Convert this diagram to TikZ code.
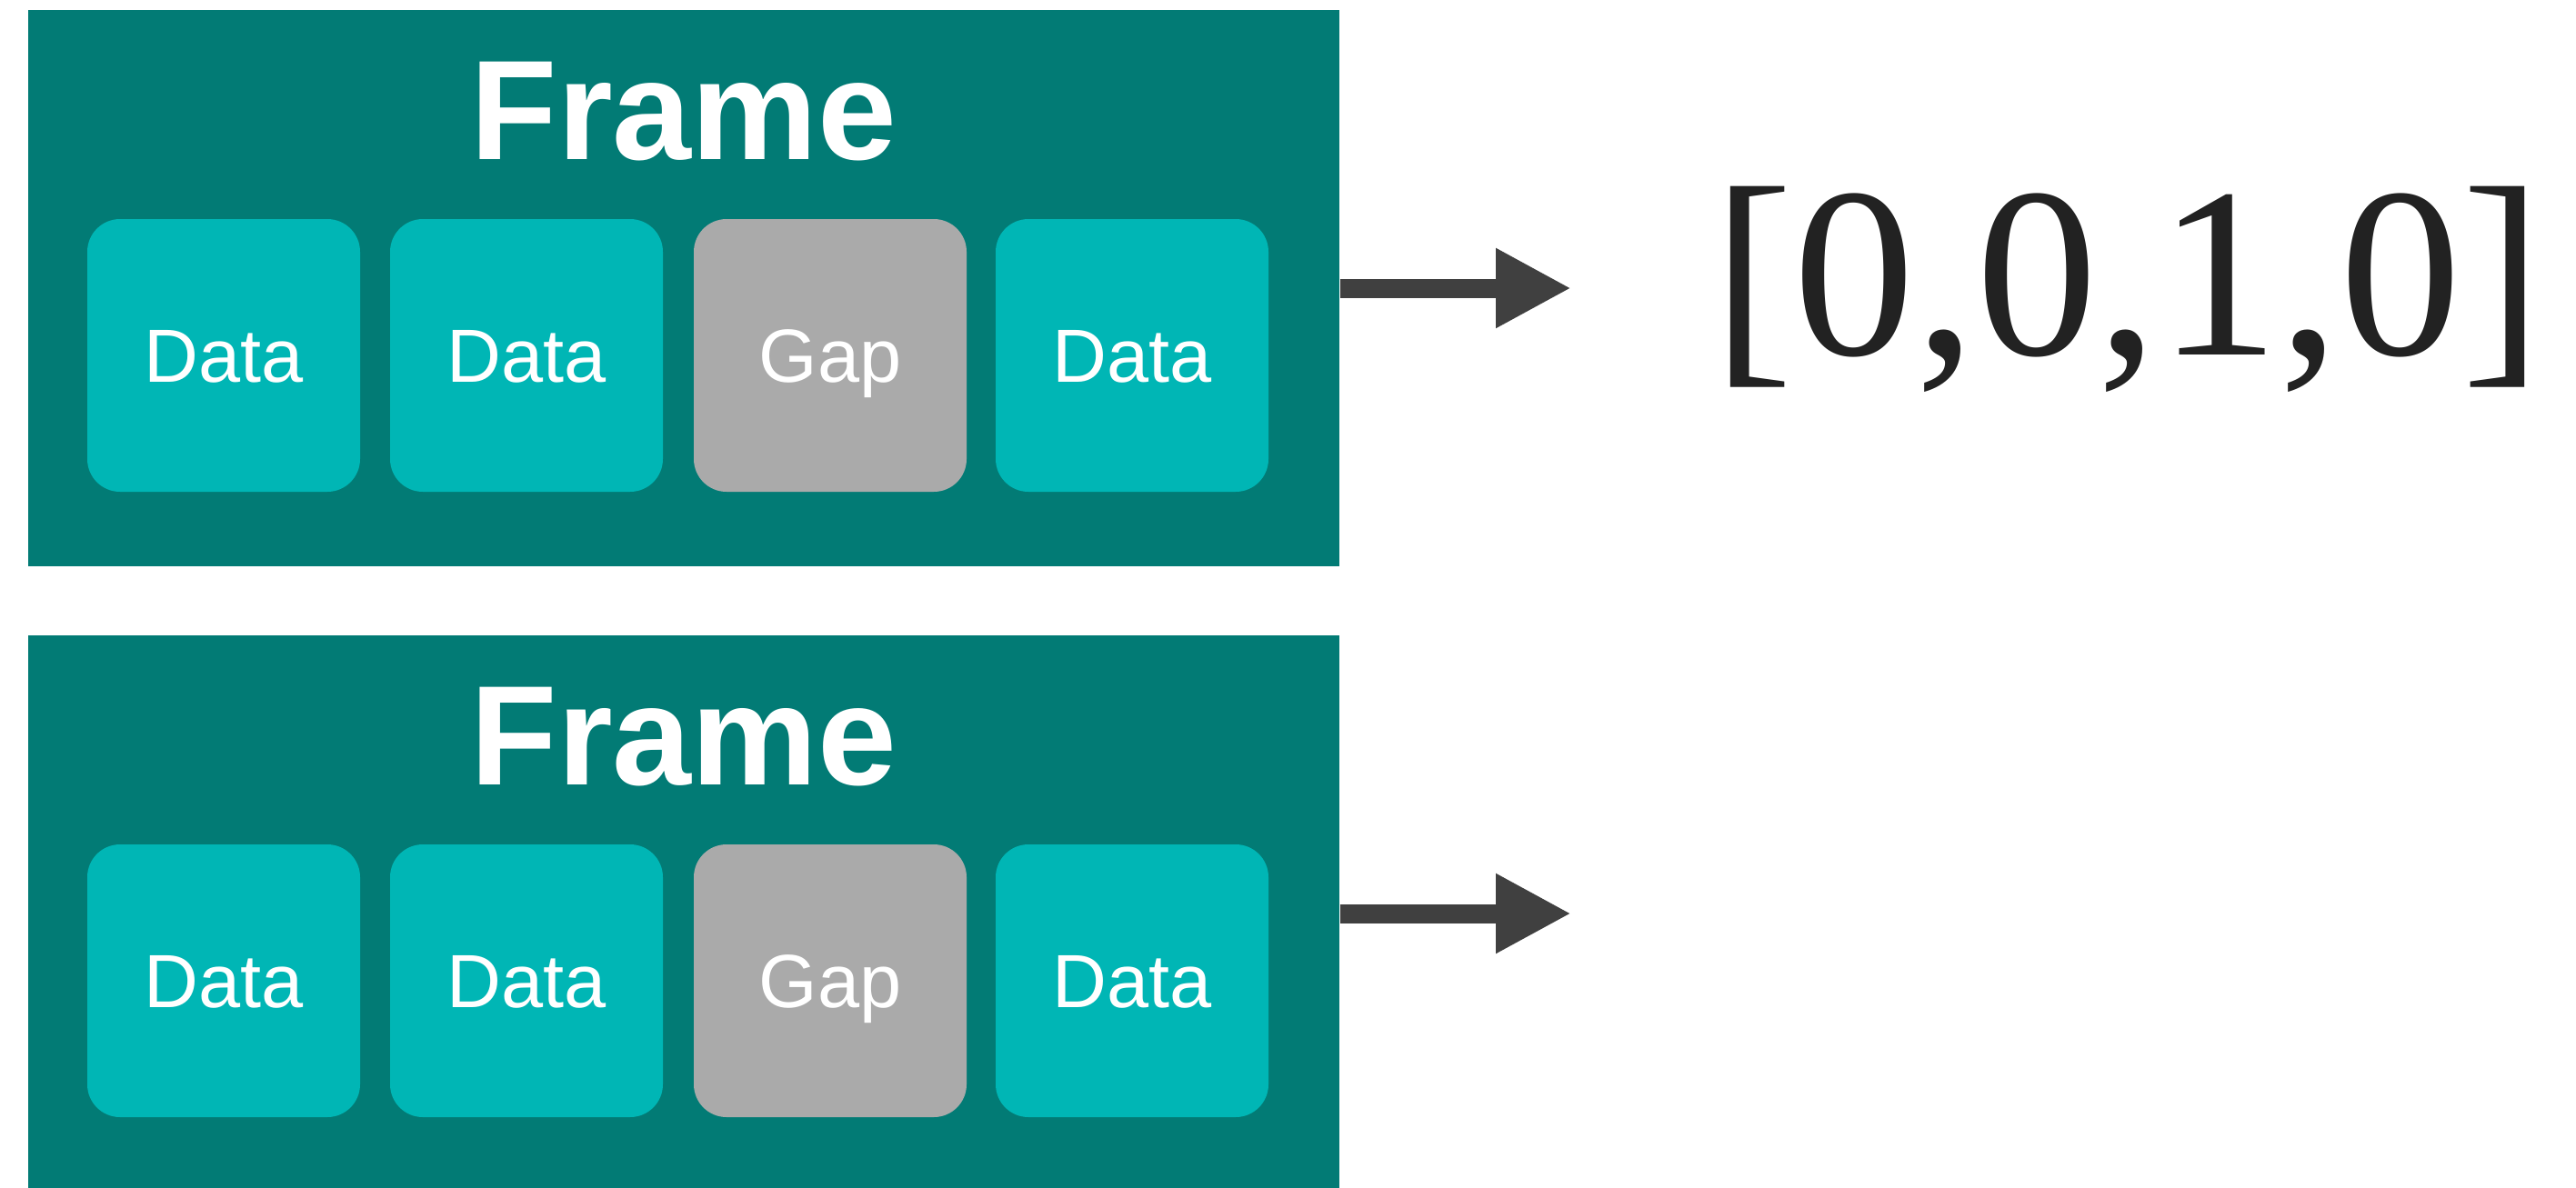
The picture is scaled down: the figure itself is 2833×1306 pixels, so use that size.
\documentclass[tikz,border=0pt]{standalone}
\usepackage{fontspec}
\setmainfont{Liberation Serif}
\newfontfamily\headfont{Liberation Sans}
\usetikzlibrary{arrows.meta}
\definecolor{frameteal}{RGB}{2,123,117}
\definecolor{datateal}{RGB}{0,182,181}
\definecolor{gapgray}{RGB}{170,170,170}
\definecolor{arrowgray}{RGB}{64,64,64}
\definecolor{inkblack}{RGB}{34,34,34}

\begin{document}
\begin{tikzpicture}[x=0.1mm,y=-0.1mm,
  frameblock/.style={fill=frameteal,inner sep=0pt,minimum width=144.2mm,minimum height=61.2mm},
  framelabel/.style={text=white,anchor=base,font=\headfont\bfseries\fontsize{44.4}{50}\selectfont},
  cellbox/.style={fill=datateal,rounded corners=3.6mm,inner sep=0pt,minimum size=30mm,
    text=white,text height=17pt,text depth=0pt,font=\headfont\fontsize{23.6}{28}\selectfont},
  gapbox/.style={cellbox,fill=gapgray},
  link/.style={draw=arrowgray,line width=2.1mm,-{Triangle[length=8.3mm,width=8.2mm]}}]
\useasboundingbox (0,0) rectangle (2833,1306);

\foreach \f/\dy in {Top/0,Bot/688}{
  \node[frameblock] (frame\f) at (752,317+\dy) {};
  \node[framelabel] (title\f) at (752,175+\dy) {Frame};
  \node[cellbox] (dataA\f) at (246,391+\dy) {Data};
  \node[cellbox] (dataB\f) at (579,391+\dy) {Data};
  \node[gapbox] (gap\f) at (913,391+\dy) {Gap};
  \node[cellbox] (dataC\f) at (1245,391+\dy) {Data};
  \coordinate (out\f) at (1728,317+\dy);
  \draw[link] (frame\f.east) -- (out\f);
}

\node[anchor=base west,inner sep=0pt,text=inkblack,font=\fontsize{76}{80}\selectfont]
  (vecTop) at (1883,390) {[0,0,1,0]};
\end{tikzpicture}
\end{document}
